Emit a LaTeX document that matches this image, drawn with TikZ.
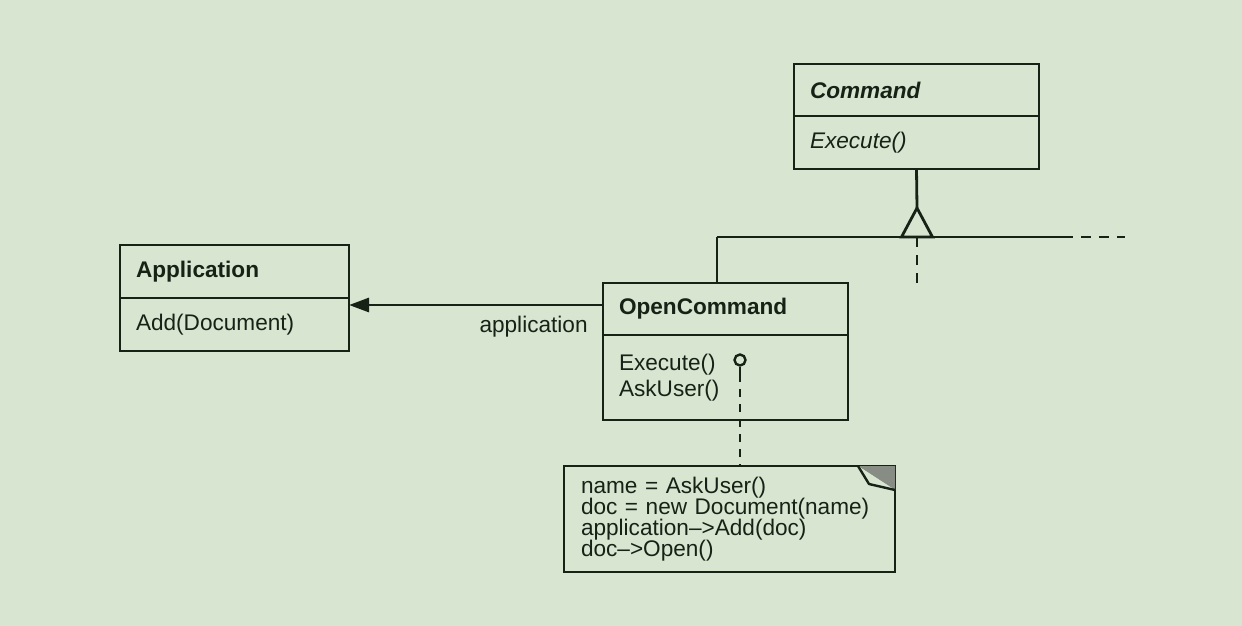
\documentclass[tikz,border=0pt]{standalone}
\usepackage{fontspec}
\setmainfont{Liberation Sans}
\usepackage{tikz}
\usetikzlibrary{arrows.meta,positioning}
\definecolor{bgcolor}{RGB}{216,229,209}
\definecolor{inkcolor}{RGB}{22,34,22}
\newcommand{\umlfont}{\fontsize{11.3pt}{12.5pt}\selectfont}
\tikzstyle{classhead} = [draw=inkcolor, fill=bgcolor, line width=1.4pt, rectangle, outer sep=0pt, inner xsep=8pt, inner ysep=0pt, align=left, font=\umlfont\bfseries, text=inkcolor]
\tikzstyle{classbody} = [classhead, font=\umlfont]
\tikzstyle{notebox} = [classhead, font=\fontsize{11.3pt}{10.6pt}\selectfont, inner xsep=8.5pt]
\tikzstyle{wire} = [draw=inkcolor, line width=1.4pt]
\tikzstyle{dashwire} = [wire, dash pattern=on 5pt off 4pt]
\tikzstyle{assoc} = [wire, -{Triangle[length=10pt,width=7pt]}]
\tikzstyle{lbl} = [font=\umlfont, text=inkcolor, inner sep=0pt]

\begin{document}
\begin{tikzpicture}[x=0.5pt, y=-0.5pt]
	\fill[bgcolor] (0,0) rectangle (1242,626);
	\useasboundingbox (0,0) rectangle (1242,626);
	% classes
	\node[classhead, anchor=north west, text width=106.5pt, minimum height=26pt] (cmdhead) at (794,64) {\textit{Command}};
	\node[classbody, below=0pt of cmdhead, text width=106.5pt, minimum height=26.5pt] (cmdbody) {\textit{Execute()}};
	\node[classhead, anchor=north west, text width=98.5pt, minimum height=26.5pt] (apphead) at (120,245) {Application};
	\node[classbody, below=0pt of apphead, text width=98.5pt, minimum height=26.5pt] (appbody) {Add(Document)};
	\node[classhead, anchor=north west, text width=106.5pt, minimum height=26pt] (ochead) at (603,283) {OpenCommand};
	\node[classbody, below=0pt of ochead, text width=106.5pt, minimum height=42.5pt] (ocbody) {Execute()\\[0.3pt]AskUser()};
	% note
	\node[notebox, anchor=north west, text width=148.5pt, minimum height=53pt] (note) at (564,466) {name = AskUser()\\doc = new Document(name)\\application\textendash>Add(doc)\\doc\textendash>Open()};
	\fill[gray!60!bgcolor!80!inkcolor] ([xshift=-18.5pt]note.north east) -- (note.north east) -- ([yshift=-12pt]note.north east) -- cycle;
	\filldraw[fill=bgcolor, draw=inkcolor, line width=1.2pt, line join=round] ([xshift=-18.5pt]note.north east) -- ([xshift=-13pt,yshift=-9pt]note.north east) -- ([yshift=-12pt]note.north east);
	% inheritance
	\coordinate (apex) at (917,208);
	\coordinate (tribase) at (917,237);
	\coordinate (branch) at (717,237);
	\coordinate (lineend) at (1063,237);
	\coordinate (farend) at (1125,237);
	\draw[wire] (cmdbody.south) -- (apex);
	\draw[wire, line join=miter] (apex) -- ++(-15.5,29) -- ++(31,0) -- cycle;
	\draw[wire] (branch) -- (lineend);
	\draw[dashwire] (lineend) -- (farend);
	\draw[wire] (branch) -- (branch |- ochead.north);
	\draw[dashwire] (tribase) -- (tribase |- ochead.north);
	% association
	\coordinate (assocy) at (0,305);
	\draw[assoc] (ochead.west |- assocy) -- (appbody.east |- assocy);
	\node[lbl, anchor=base east] (assoclbl) at (588,332) {application};
	% implementation note
	\node[circle, draw=inkcolor, line width=1.2pt, fill=bgcolor, minimum size=5.5pt, inner sep=0pt] (lolli) at (740,360) {};
	\coordinate (lollistem) at (740,374);
	\draw[wire] (lolli.south) -- (lollistem);
	\draw[wire, dash pattern=on 4pt off 3.5pt] (lollistem) -- (lollistem |- note.north);
\end{tikzpicture}
\end{document}
